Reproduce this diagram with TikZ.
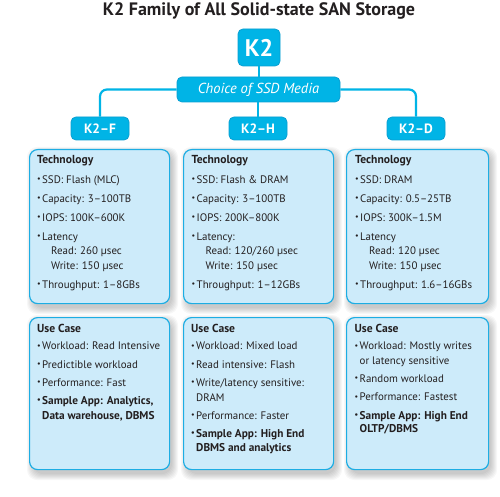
\documentclass[tikz,border=0pt]{standalone}
\usepackage{fontspec}
\setmainfont{PT Sans}
\definecolor{cyanA}{HTML}{00B4E6}
\definecolor{cyanB}{HTML}{0A9FD2}
\definecolor{lightA}{HTML}{CDEBFA}
\definecolor{edgeA}{HTML}{1DADE3}
\definecolor{ink}{HTML}{231F20}
\newcommand\bul{\makebox[5pt][l]{\raisebox{0.2ex}{\fontsize{8}{8}\selectfont •}}}
\newcommand\cnt{\hspace*{5pt}}
\newcommand\subi{\hspace*{14pt}}
\newcommand\softshadow[4]{\foreach \i in {0,...,6}{\fill[black,opacity=0.03,rounded corners=10pt] (#1+4-\i,#2+4-\i) rectangle (#3+3+\i,#4+5+\i);}}
\begin{document}
\begin{tikzpicture}[x=1pt,y=-1pt,
  bigbox/.style={draw=edgeA, line width=1.2pt, fill=lightA, rounded corners=8pt, inner sep=0pt, anchor=north west},
  cbox/.style={draw=cyanB, line width=0.8pt, fill=cyanA, rounded corners=5pt, text=white, inner sep=0pt},
  link/.style={draw=cyanA, line width=2.2pt, rounded corners=7pt},
  txt/.style={anchor=base west, inner sep=0pt, text=ink, font=\fontsize{10.9}{12}\selectfont},
  hd/.style={txt, font=\fontsize{11.6}{12}\selectfont\bfseries},
  bd/.style={txt, font=\fontsize{11.3}{12}\selectfont\bfseries}]
\useasboundingbox (0,0) rectangle (500,497);
\fill[white] (0,0) rectangle (500,497);

% title
\node[anchor=base, font=\fontsize{18}{18}\selectfont\bfseries, text=ink, inner sep=0pt] (title) at (259,16) {K2 Family of All Solid-state SAN Storage};

% shadows
\softshadow{29}{149}{169}{303}
\softshadow{183}{149}{333}{303}
\softshadow{346}{149}{488}{303}
\softshadow{29}{317}{169}{469}
\softshadow{183}{317}{333}{469}
\softshadow{346}{317}{488}{469}

% top boxes
\node[cbox, minimum width=42pt, minimum height=37pt, font=\fontsize{24}{24}\selectfont\bfseries] (k2) at (259,47.5) {K2};
\node[cbox, minimum width=163pt, minimum height=25pt, font=\fontsize{14.5}{14.5}\selectfont\itshape] (choice) at (258.5,89.5) {Choice of SSD Media};
\node[cbox, minimum width=58pt, minimum height=23pt, font=\fontsize{13.5}{13.5}\selectfont\bfseries] (kf) at (100,128.5) {K2–F};
\node[cbox, minimum width=58pt, minimum height=23pt, font=\fontsize{13.5}{13.5}\selectfont\bfseries] (kh) at (258,128.5) {K2–H};
\node[cbox, minimum width=58pt, minimum height=23pt, font=\fontsize{13.5}{13.5}\selectfont\bfseries] (kd) at (416,128.5) {K2–D};

% connectors
\draw[link] (k2.south) -- (k2.south |- choice.north);
\draw[link] (choice.west) -| (kf.north);
\draw[link] (choice.east) -| (kd.north);
\draw[link] (choice.south -| kh.north) -- (kh.north);

% big boxes
\node[bigbox, minimum width=140pt, minimum height=154pt] (tf) at (29,149) {};
\node[bigbox, minimum width=150pt, minimum height=154pt] (th) at (183,149) {};
\node[bigbox, minimum width=142pt, minimum height=154pt] (td) at (346,149) {};
\node[bigbox, minimum width=140pt, minimum height=152pt] (uf) at (29,317) {};
\node[bigbox, minimum width=150pt, minimum height=152pt] (uh) at (183,317) {};
\node[bigbox, minimum width=142pt, minimum height=152pt] (ud) at (346,317) {};

% technology K2-F
\node[hd] (tfh) at (37,164) {Technology};
\node[txt] (tf1) at (37,183) {\bul SSD: Flash (MLC)};
\node[txt] (tf2) at (37,202) {\bul Capacity: 3–100TB};
\node[txt] (tf3) at (37,221) {\bul IOPS: 100K–600K};
\node[txt] (tf4) at (37,240) {\bul Latency};
\node[txt] (tf5) at (37,254.5) {\subi Read: 260 µsec};
\node[txt] (tf6) at (37,269.5) {\subi Write: 150 µsec};
\node[txt] (tf7) at (37,288) {\bul Throughput: 1–8GBs};

% technology K2-H
\node[hd] (thh) at (191.5,164) {Technology};
\node[txt] (th1) at (191.5,183) {\bul SSD: Flash \& DRAM};
\node[txt] (th2) at (191.5,202) {\bul Capacity: 3–100TB};
\node[txt] (th3) at (191.5,221) {\bul IOPS: 200K–800K};
\node[txt] (th4) at (191.5,240) {\bul Latency:};
\node[txt] (th5) at (191.5,254.5) {\subi Read: 120/260 µsec};
\node[txt] (th6) at (191.5,269.5) {\subi Write: 150 µsec};
\node[txt] (th7) at (191.5,288) {\bul Throughput: 1–12GBs};

% technology K2-D
\node[hd] (tdh) at (355,164) {Technology};
\node[txt] (td1) at (355,183) {\bul SSD: DRAM};
\node[txt] (td2) at (355,202) {\bul Capacity: 0.5–25TB};
\node[txt] (td3) at (355,221) {\bul IOPS: 300K–1.5M};
\node[txt] (td4) at (355,240) {\bul Latency};
\node[txt] (td5) at (355,254.5) {\subi Read: 120 µsec};
\node[txt] (td6) at (355,269.5) {\subi Write: 150 µsec};
\node[txt] (td7) at (355,288) {\bul Throughput: 1.6–16GBs};

% use case K2-F
\node[hd] (ufh) at (37,332) {Use Case};
\node[txt] (uf1) at (37,349.5) {\bul Workload: Read Intensive};
\node[txt] (uf2) at (37,368) {\bul Predictible workload};
\node[txt] (uf3) at (37,386) {\bul Performance: Fast};
\node[bd] (uf4) at (37,404) {\bul Sample App: Analytics,};
\node[bd] (uf5) at (37,419) {\cnt Data warehouse, DBMS};

% use case K2-H
\node[hd] (uhh) at (191,332) {Use Case};
\node[txt] (uh1) at (191,349.5) {\bul Workload: Mixed load};
\node[txt] (uh2) at (191,368) {\bul Read intensive: Flash};
\node[txt] (uh3) at (191,386) {\bul Write/latency sensitive:};
\node[txt] (uh4) at (191,401) {\cnt DRAM};
\node[txt] (uh5) at (191,419) {\bul Performance: Faster};
\node[bd] (uh6) at (191,437) {\bul Sample App: High End};
\node[bd] (uh7) at (191,451.5) {\cnt DBMS and analytics};

% use case K2-D
\node[hd] (udh) at (354.5,332) {Use Case};
\node[txt] (ud1) at (354.5,349.5) {\bul Workload: Mostly writes};
\node[txt] (ud2) at (354.5,364) {\cnt or latency sensitive};
\node[txt] (ud3) at (354.5,382) {\bul Random workload};
\node[txt] (ud4) at (354.5,400.5) {\bul Performance: Fastest};
\node[bd] (ud5) at (354.5,419) {\bul Sample App: High End};
\node[bd] (ud6) at (354.5,432.5) {\cnt OLTP/DBMS};
\end{tikzpicture}
\end{document}
